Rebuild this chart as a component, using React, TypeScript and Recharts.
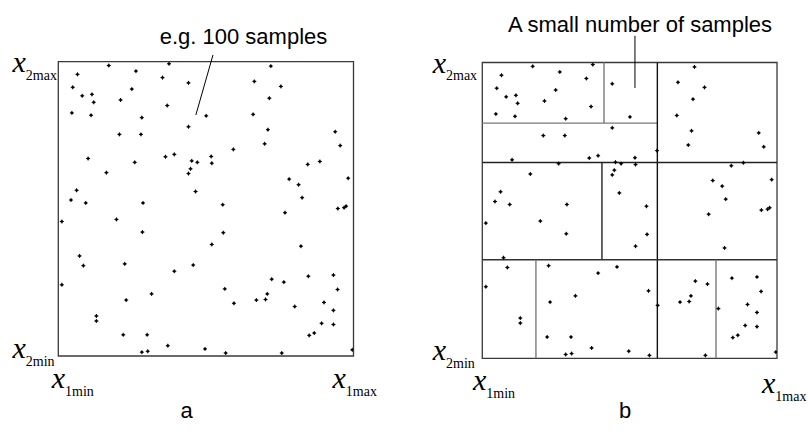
import React from 'react';
import { ScatterChart, Scatter, XAxis, YAxis, ReferenceArea, ReferenceLine } from 'recharts';

// normalised sample coordinates (0..100) of the ~100 samples, shared by both panels
const sampleX1 = [
  17.1, 37.5, 6.5, 26.3, 35.3, 44.1, 4.9, 24.9, 8.1, 11.4, 12.0, 21.1, 36.9, 4.6, 11.1, 28.3, 50.1, 44.1, 20.7, 28.0,
  10.1, 36.3, 39.3, 45.2, 47.1, 25.9, 44.8, 44.1, 16.3, 6.2, 46.5, 4.3, 9.3, 28.7, 72.0, 66.4, 75.4, 71.5, 66.0, 71.0,
  93.8, 69.9, 95.5, 59.3, 51.8, 52.0, 84.5, 88.6, 78.2, 81.4, 98.2, 82.6, 55.7, 94.7, 96.8, 97.5, 1.2, 19.7, 28.5, 7.2,
  8.5, 22.5, 45.7, 39.3, 1.2, 31.6, 23.0, 12.9, 12.9, 22.0, 30.1, 37.1, 49.7, 28.3, 30.3, 76.8, 55.9, 52.0, 82.2, 72.3,
  76.4, 84.7, 93.2, 56.4, 94.6, 70.8, 67.1, 70.2, 59.5, 80.1, 90.0, 93.2, 89.2, 93.2, 86.7, 85.0, 56.7, 75.7, 99.6,
];
const sampleX2 = [
  98.7, 99.3, 95.7, 96.8, 94.6, 92.8, 91.3, 90.7, 88.4, 88.9, 86.2, 87.0, 85.1, 82.6, 81.8, 81.0, 81.6, 77.9, 75.3, 75.3,
  67.1, 67.7, 68.5, 66.3, 65.8, 65.8, 63.6, 62.0, 62.3, 56.3, 55.9, 53.0, 52.0, 52.0, 98.5, 93.3, 91.6, 87.6, 82.1, 76.9,
  76.2, 72.1, 71.5, 70.2, 67.8, 65.5, 65.1, 66.1, 60.1, 58.2, 60.4, 53.8, 51.4, 50.1, 50.4, 50.9, 45.7, 46.4, 42.1, 34.0,
  30.7, 31.3, 30.9, 28.8, 24.2, 21.1, 19.0, 13.6, 11.9, 7.2, 7.2, 3.5, 2.4, 1.3, 1.6, 48.7, 41.9, 37.9, 37.3, 26.1,
  25.1, 27.1, 27.5, 22.8, 22.6, 21.1, 19.0, 19.2, 17.9, 16.8, 18.2, 15.5, 11.1, 10.7, 7.8, 7.0, 1.0, 1.0, 2.1,
];

// axis ticks and their labels
const axisTicks = [0, 100];
const xTickSubscripts = ['1min', '1max'];
const yTickSubscripts = ['2min', '2max'];

// partition segments of panel b (data coordinates)
const segStartX = [41.3, 0, 59.4, 0, 40.6, 0, 18.2, 79.3];
const segStartY = [100, 79.5, 0, 66.2, 33.3, 33.3, 0, 0];
const segEndX = [41.3, 59.4, 59.4, 100, 40.6, 100, 18.2, 79.3];
const segEndY = [79.5, 79.5, 100, 66.2, 66.2, 33.3, 33.3, 33.3];

// annotation pointers (data coordinates)
const pointerA = [{ x: 52.4, y: 102.3 }, { x: 46.6, y: 81.9 }];
const pointerB = [{ x: 51.8, y: 109.0 }, { x: 51.8, y: 91.4 }];

const annotationTexts = ['e.g. 100 samples', 'A small number of samples'];
const panelLetters = ['a', 'b'];

const samples = sampleX1.map((x, i) => ({ x, y: sampleX2[i] }));
const segments = segStartX.map((x, i) => [
  { x, y: segStartY[i] },
  { x: segEndX[i], y: segEndY[i] },
]);
const segColors = ['#7a7a7a', '#7a7a7a', '#111', '#222', '#222', '#333', '#7a7a7a', '#7a7a7a'];

const SERIF = "'Liberation Serif', 'Times New Roman', serif";
const SANS = "'Liberation Sans', Arial, sans-serif";

const SampleDot = (props: any) => {
  const { cx, cy } = props;
  if (cx == null || cy == null) return null;
  return (
    <g>
      <path d={`M${cx - 2},${cy}L${cx + 2},${cy}M${cx},${cy - 2}L${cx},${cy + 2}`} stroke="#000" strokeWidth={1} />
      <rect x={cx - 1.1} y={cy - 1.1} width={2.2} height={2.2} fill="#000" />
    </g>
  );
};

const MathLabel = ({ x, y, sub, subDy }: any) => (
  <text x={x} y={y} fontFamily={SERIF} fill="#000" textAnchor="start">
    <tspan fontStyle="italic" fontSize={30}>x</tspan>
    <tspan fontSize={14} dy={subDy}>{sub}</tspan>
  </text>
);

type PanelCfg = {
  left: number;
  margin: { top: number; right: number; bottom: number; left: number };
  yLabelDx: number;
  xMinDx: number;
  xMaxDx: number;
  xMinDy: number;
  xMaxDy: number;
  partitions: boolean;
  pointer: { x: number; y: number }[];
};

// margins: left/bottom include the 1px reserved by the (label-only) axes
const panels: PanelCfg[] = [
  {
    left: 0,
    margin: { top: 61.7, right: 50.5, bottom: 89, left: 57.3 },
    yLabelDx: -45.8,
    xMinDx: -6.6,
    xMaxDx: -21,
    xMinDy: 32,
    xMaxDy: 32,
    partitions: false,
    pointer: pointerA,
  },
  {
    left: 404,
    margin: { top: 62.5, right: 31, bottom: 86.7, left: 77.3 },
    yLabelDx: -49.6,
    xMinDx: -9.3,
    xMaxDx: -15,
    xMinDy: 32,
    xMaxDy: 35,
    partitions: true,
    pointer: pointerB,
  },
];

const Panel = ({ cfg }: { cfg: PanelCfg }) => {
  const renderXTick = (p: any) => {
    const idx = axisTicks.indexOf(p.payload.value);
    const isMin = idx === 0;
    return (
      <MathLabel
        key={`x-${idx}`}
        x={p.x + (isMin ? cfg.xMinDx : cfg.xMaxDx)}
        y={p.y + (isMin ? cfg.xMinDy : cfg.xMaxDy)}
        sub={xTickSubscripts[idx]}
        subDy={8}
      />
    );
  };
  const renderYTick = (p: any) => {
    const idx = axisTicks.indexOf(p.payload.value);
    const isMin = idx === 0;
    return (
      <MathLabel
        key={`y-${idx}`}
        x={p.x + cfg.yLabelDx}
        y={p.y + (isMin ? 2 : 10.3)}
        sub={yTickSubscripts[idx]}
        subDy={7.5}
      />
    );
  };
  return (
    <div style={{ position: 'absolute', left: cfg.left, top: 0 }}>
      <ScatterChart width={404} height={446} margin={cfg.margin} style={{ overflow: 'visible' }}>
        <XAxis
          dataKey="x"
          type="number"
          domain={[0, 100]}
          allowDataOverflow
          ticks={axisTicks}
          interval={0}
          height={1}
          tickSize={0}
          tickMargin={0}
          axisLine={false}
          tickLine={false}
          tick={renderXTick}
        />
        <YAxis
          dataKey="y"
          type="number"
          domain={[0, 100]}
          allowDataOverflow
          ticks={axisTicks}
          interval={0}
          width={1}
          tickSize={0}
          tickMargin={0}
          axisLine={false}
          tickLine={false}
          tick={renderYTick}
        />
        <ReferenceArea x1={0} x2={100} y1={0} y2={100} fill="none" stroke="#3a3a3a" strokeWidth={1.3} fillOpacity={0} />
        {cfg.partitions &&
          segments.map((seg, i) => (
            <ReferenceLine key={i} segment={seg} stroke={segColors[i]} strokeWidth={1.4} ifOverflow="visible" />
          ))}
        <ReferenceLine segment={cfg.pointer} stroke="#000" strokeWidth={1} ifOverflow="visible" />
        <Scatter data={samples} isAnimationActive={false} shape={<SampleDot />} />
      </ScatterChart>
    </div>
  );
};

export default function App() {
  return (
    <div style={{ position: 'absolute', left: 0, top: 0, width: 808, height: 446, background: '#fff' }}>
      {panels.map((cfg, i) => (
        <Panel key={i} cfg={cfg} />
      ))}
      <svg width={808} height={446} style={{ position: 'absolute', left: 0, top: 0, pointerEvents: 'none' }}>
        <text x={243.5} y={44} textAnchor="middle" fontFamily={SANS} fontSize={22} fill="#000">
          {annotationTexts[0]}
        </text>
        <text x={640} y={32} textAnchor="middle" fontFamily={SANS} fontSize={22} fill="#000">
          {annotationTexts[1]}
        </text>
        <text x={186.6} y={418} textAnchor="middle" fontFamily={SANS} fontSize={22} fill="#000">
          {panelLetters[0]}
        </text>
        <text x={625} y={418} textAnchor="middle" fontFamily={SANS} fontSize={22} fill="#000">
          {panelLetters[1]}
        </text>
      </svg>
    </div>
  );
}
